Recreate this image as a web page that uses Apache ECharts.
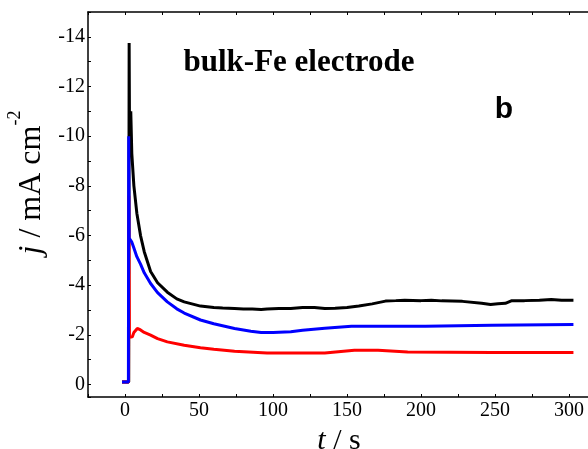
<!DOCTYPE html>
<html>
<head>
<meta charset="utf-8">
<script src="https://cdn.jsdelivr.net/npm/echarts@6/dist/echarts.min.js"></script>
<style>
  html, body { margin: 0; padding: 0; background: #fff; }
  #chart { width: 588px; height: 449px; }
</style>
</head>
<body>
<div id="chart"></div>
<script>
// Chronoamperometry transients: time (s) vs current density (mA cm^-2)
const blackT = [-2, 2.5, 2.8, 3.1, 3.9, 4.6, 6, 8, 10.5, 13, 17.3, 22, 28.6, 35, 40, 51, 60, 66, 74, 80, 86, 92, 96, 104, 112, 120, 128, 135, 142, 150, 158, 167, 176, 183, 189, 200, 207, 214, 228, 241, 247, 252, 257, 261, 270, 280, 288, 295, 303];
const blackJ = [-0.1, -0.1, -13.75, -9.6, -11.0, -9.3, -8.0, -6.9, -6.0, -5.35, -4.55, -4.1, -3.72, -3.45, -3.33, -3.16, -3.1, -3.08, -3.06, -3.04, -3.04, -3.02, -3.04, -3.06, -3.06, -3.1, -3.1, -3.06, -3.07, -3.1, -3.16, -3.25, -3.36, -3.38, -3.4, -3.38, -3.4, -3.37, -3.35, -3.27, -3.22, -3.25, -3.27, -3.37, -3.38, -3.4, -3.43, -3.4, -3.4];

const blueT = [-2, 2.3, 2.5, 2.8, 3.6, 4.5, 6, 8, 10.5, 13, 17.3, 22, 28.6, 35, 40, 51, 60, 74, 85, 92, 100, 112, 120, 135, 153, 175, 203, 248, 303];
const blueJ = [-0.1, -0.1, -10.0, -5.9, -5.95, -5.75, -5.5, -5.15, -4.85, -4.5, -4.07, -3.7, -3.33, -3.05, -2.88, -2.6, -2.45, -2.26, -2.15, -2.1, -2.1, -2.13, -2.19, -2.27, -2.35, -2.35, -2.35, -2.39, -2.42];

const redT = [-2, 2.4, 2.6, 3.0, 4.9, 6, 8.3, 10.5, 13, 17.3, 22, 28.6, 40, 51, 60, 74, 96, 119, 135, 155, 171, 191, 248, 303];
const redJ = [-0.1, -0.1, -7.6, -1.9, -1.92, -2.1, -2.26, -2.2, -2.1, -1.99, -1.85, -1.72, -1.58, -1.48, -1.42, -1.34, -1.27, -1.27, -1.27, -1.38, -1.38, -1.31, -1.29, -1.29];

const xTickLabels = [0, 50, 100, 150, 200, 250, 300];
const yTickLabels = [0, -2, -4, -6, -8, -10, -12, -14];

const titleText = 'bulk-Fe electrode';
const panelText = 'b';

const zip = (xs, ys) => xs.map((x, i) => [x, ys[i]]);

const serif = '"Liberation Serif", "Times New Roman", serif';
const sans = '"Liberation Sans", Arial, sans-serif';

const chart = echarts.init(document.getElementById('chart'), null, { renderer: 'canvas' });

const axisLineStyle = { color: '#000', width: 1.5 };

const lineSeries = (name, t, j, color) => ({
  name,
  type: 'line',
  data: zip(t, j),
  showSymbol: false,
  symbol: 'none',
  smooth: false,
  lineStyle: { color, width: 3 },
  animation: false
});

chart.setOption({
  animation: false,
  backgroundColor: '#fff',
  grid: { left: 88, top: 12, right: -18, bottom: 52, outerBoundsMode: 'none' },
  xAxis: [
    {
      type: 'value',
      position: 'bottom',
      min: -25, max: 325, interval: 25,
      splitLine: { show: false },
      axisLine: { show: true, onZero: false, lineStyle: axisLineStyle },
      axisTick: { show: true, inside: true, length: 3, lineStyle: { color: '#000', width: 1 } },
      axisLabel: {
        margin: 4,
        fontFamily: serif, fontSize: 20, color: '#000',
        formatter: v => (xTickLabels.indexOf(v) >= 0 ? String(v) : '')
      },
      name: '{i|t} / s',
      nameLocation: 'middle',
      nameGap: 18,
      nameTextStyle: {
        fontFamily: serif, fontSize: 30, color: '#000',
        padding: [0, 16, 0, 0],
        rich: { i: { fontFamily: serif, fontSize: 30, fontStyle: 'italic', color: '#000' } }
      }
    },
    {
      type: 'value',
      position: 'top',
      min: -25, max: 325, interval: 25,
      splitLine: { show: false },
      axisLine: { show: true, onZero: false, lineStyle: axisLineStyle },
      axisTick: { show: true, inside: true, length: 3, lineStyle: { color: '#000', width: 1 } },
      axisLabel: { show: false }
    }
  ],
  yAxis: {
    type: 'value',
    inverse: true,
    min: -15, max: 0.5, interval: 1,
    splitLine: { show: false },
    axisLine: { show: true, onZero: false, lineStyle: axisLineStyle },
    axisTick: { show: true, inside: true, length: 3, lineStyle: { color: '#000', width: 1 } },
    axisLabel: {
      margin: 3,
      fontFamily: serif, fontSize: 20, color: '#000',
      formatter: v => (yTickLabels.indexOf(v) >= 0 ? String(v) : '')
    },
    name: '{i|j}{n| / mA cm}{sup|-2}',
    nameLocation: 'middle',
    nameRotate: 90,
    nameGap: 32,
    nameTextStyle: {
      color: '#000',
      padding: [0, 0, 0, 44],
      rich: {
        i: { fontFamily: serif, fontSize: 32, fontStyle: 'italic', color: '#000', lineHeight: 41, verticalAlign: 'bottom' },
        n: { fontFamily: serif, fontSize: 32, color: '#000', lineHeight: 41, verticalAlign: 'bottom' },
        sup: { fontFamily: serif, fontSize: 18, color: '#000', lineHeight: 18, verticalAlign: 'top' }
      }
    }
  },
  graphic: [
    {
      type: 'text',
      x: 299, y: 63,
      style: {
        text: titleText,
        font: 'bold 31px ' + serif,
        fill: '#000',
        align: 'center',
        verticalAlign: 'middle'
      }
    },
    {
      type: 'text',
      x: 504, y: 110,
      style: {
        text: panelText,
        font: 'bold 30px ' + sans,
        fill: '#000',
        align: 'center',
        verticalAlign: 'middle'
      }
    }
  ],
  series: [
    lineSeries('black', blackT, blackJ, '#000000'),
    lineSeries('red', redT, redJ, '#ff0000'),
    lineSeries('blue', blueT, blueJ, '#0000ff')
  ]
});
</script>
</body>
</html>
